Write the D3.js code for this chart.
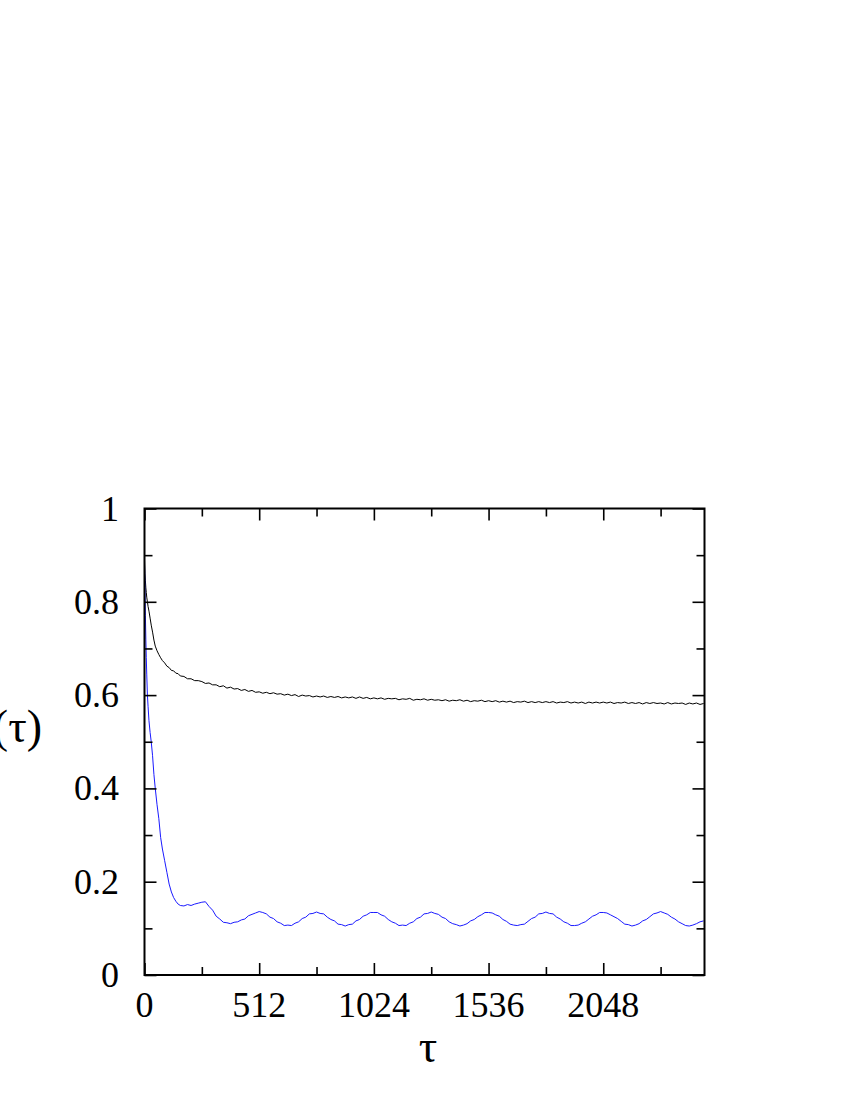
<!DOCTYPE html>
<html>
<head>
<meta charset="utf-8">
<script src="https://cdn.jsdelivr.net/npm/d3@7"></script>
<style>
  body { margin: 0; background: #fff; }
  svg text { font-family: "Liberation Serif", "DejaVu Serif", serif; fill: #000; }
</style>
</head>
<body>
<svg id="chart" width="850" height="1100"></svg>
<script>
// tau values (x), shared by both curves
var tau = [
  0,2,4,6,8,10,13,16,20,25,30,36,42,48,56,64,72,80,90,100,110,120,130,140,150,160,176,192,208,224,240,
  256,272,288,304,320,336,352,368,384,400,416,432,448,464,480,496,
  512,528,544,560,576,592,608,624,640,656,672,688,704,720,736,752,
  768,784,800,816,832,848,864,880,896,912,928,944,960,976,992,1008,
  1024,1040,1056,1072,1088,1104,1120,1136,1152,1168,1184,1200,1216,1232,1248,1264,
  1280,1296,1312,1328,1344,1360,1376,1392,1408,1424,1440,1456,1472,1488,1504,1520,
  1536,1552,1568,1584,1600,1616,1632,1648,1664,1680,1696,1712,1728,1744,1760,1776,
  1792,1808,1824,1840,1856,1872,1888,1904,1920,1936,1952,1968,1984,2000,2016,2032,
  2048,2064,2080,2096,2112,2128,2144,2160,2176,2192,2208,2224,2240,2256,2272,2288,
  2304,2320,2336,2352,2368,2384,2400,2416,2432,2448,2464,2480,2496
];

// black curve
var c_black = [
  0.890,0.860,0.845,0.830,0.820,0.810,0.800,0.790,0.780,0.765,0.750,0.735,0.718,0.705,0.695,0.687,0.680,0.674,0.669,0.662,0.659,0.653,0.652,0.647,0.646,0.641,0.640,0.635,0.635,0.631,0.631,
  0.629,0.625,0.626,0.622,0.622,0.618,0.620,0.615,0.617,0.613,0.614,0.610,0.612,0.608,0.610,0.606,
  0.607,0.604,0.606,0.603,0.605,0.602,0.603,0.600,0.602,0.599,0.601,0.597,0.600,0.598,0.599,0.596,
  0.598,0.596,0.598,0.595,0.597,0.595,0.597,0.594,0.596,0.594,0.596,0.593,0.596,0.593,0.595,0.592,
  0.594,0.592,0.594,0.591,0.593,0.592,0.593,0.590,0.592,0.591,0.593,0.589,0.591,0.590,0.592,0.589,
  0.591,0.589,0.590,0.588,0.590,0.587,0.589,0.588,0.590,0.587,0.589,0.586,0.588,0.587,0.589,0.586,
  0.588,0.586,0.588,0.585,0.587,0.585,0.587,0.584,0.586,0.585,0.587,0.584,0.586,0.584,0.586,0.584,
  0.586,0.584,0.586,0.583,0.585,0.584,0.586,0.583,0.585,0.583,0.585,0.582,0.585,0.583,0.585,0.583,
  0.585,0.583,0.585,0.582,0.584,0.583,0.585,0.582,0.584,0.582,0.584,0.581,0.584,0.582,0.584,0.582,
  0.583,0.581,0.584,0.581,0.583,0.582,0.583,0.580,0.583,0.581,0.583,0.580,0.582
];

// blue curve
var c_blue = [
  0.880,0.830,0.770,0.720,0.680,0.645,0.600,0.575,0.545,0.520,0.500,0.470,0.430,0.400,0.365,0.335,0.295,0.270,0.245,0.220,0.195,0.178,0.166,0.158,0.152,0.149,0.148,0.151,0.149,0.152,0.154,
  0.156,0.157,0.147,0.139,0.126,0.120,0.113,0.112,0.110,0.113,0.114,0.118,0.120,0.127,0.130,0.133,
  0.136,0.134,0.131,0.124,0.121,0.114,0.111,0.106,0.107,0.106,0.111,0.114,0.121,0.124,0.131,0.132,
  0.135,0.132,0.131,0.124,0.119,0.116,0.109,0.108,0.105,0.108,0.109,0.116,0.119,0.126,0.129,0.134,
  0.134,0.134,0.129,0.126,0.119,0.114,0.111,0.106,0.107,0.106,0.111,0.114,0.121,0.124,0.131,0.132,
  0.135,0.132,0.130,0.124,0.121,0.114,0.110,0.108,0.105,0.107,0.110,0.116,0.119,0.125,0.129,0.134,
  0.134,0.133,0.129,0.126,0.119,0.115,0.109,0.107,0.106,0.108,0.109,0.115,0.121,0.124,0.131,0.132,
  0.135,0.132,0.131,0.124,0.120,0.114,0.111,0.106,0.106,0.107,0.111,0.114,0.120,0.126,0.129,0.134,
  0.134,0.133,0.129,0.125,0.121,0.115,0.109,0.108,0.105,0.107,0.110,0.116,0.119,0.125,0.131,0.133,
  0.136,0.133,0.130,0.124,0.120,0.114,0.110,0.106,0.105,0.107,0.110,0.114,0.116
];

var x_major = [0, 512, 1024, 1536, 2048];
var x_minor = [256, 768, 1280, 1792, 2304];
var y_major = [0, 0.2, 0.4, 0.6, 0.8, 1];
var y_minor = [0.1, 0.3, 0.5, 0.7, 0.9];
var y_labels = ["0", "0.2", "0.4", "0.6", "0.8", "1"];

var svg = d3.select("#chart");
var plot_left = 144.5, plot_right = 704.5, plot_top = 508.5, plot_bottom = 975;

var xscale = d3.scaleLinear().domain([0, 2500]).range([plot_left, plot_right]);
var yscale = d3.scaleLinear().domain([0, 1]).range([plot_bottom, plot_top]);

// curves
var line = function (vals) {
  return d3.line()
    .x(function (d, i) { return xscale(tau[i]); })
    .y(function (d) { return yscale(d); })(vals);
};
svg.append("path").attr("d", line(c_black))
  .attr("fill", "none").attr("stroke", "#000").attr("stroke-width", 1);
svg.append("path").attr("d", line(c_blue))
  .attr("fill", "none").attr("stroke", "#1a1aff").attr("stroke-width", 1);

// ticks on all four sides (inward), drawn with d3 axes
function ticks(axisFn, scale, vals, len, transform) {
  svg.append("g")
    .attr("transform", transform)
    .call(axisFn(scale).tickValues(vals).tickSize(len).tickFormat(""))
    .call(function (g) { g.select(".domain").remove(); })
    .selectAll("line").attr("stroke", "#000").attr("stroke-width", 1.6);
}
ticks(d3.axisTop, xscale, x_major, 12, "translate(0," + plot_bottom + ")");
ticks(d3.axisTop, xscale, x_minor, 8, "translate(0," + plot_bottom + ")");
ticks(d3.axisBottom, xscale, x_major, 12, "translate(0," + plot_top + ")");
ticks(d3.axisBottom, xscale, x_minor, 8, "translate(0," + plot_top + ")");
ticks(d3.axisRight, yscale, y_major, 12, "translate(" + plot_left + ",0)");
ticks(d3.axisRight, yscale, y_minor, 8, "translate(" + plot_left + ",0)");
ticks(d3.axisLeft, yscale, y_major, 12, "translate(" + plot_right + ",0)");
ticks(d3.axisLeft, yscale, y_minor, 8, "translate(" + plot_right + ",0)");

// frame
svg.append("rect")
  .attr("x", plot_left).attr("y", plot_top)
  .attr("width", plot_right - plot_left).attr("height", plot_bottom - plot_top)
  .attr("fill", "none").attr("stroke", "#000").attr("stroke-width", 2);

// tick labels
svg.append("g").selectAll("text").data(x_major).enter().append("text")
  .attr("x", function (d) { return xscale(d); })
  .attr("y", 1017)
  .attr("text-anchor", "middle")
  .style("font-size", "36px")
  .text(function (d) { return d; });

svg.append("g").selectAll("text").data(y_major).enter().append("text")
  .attr("x", 119)
  .attr("y", function (d) { return yscale(d) + 12; })
  .attr("text-anchor", "end")
  .style("font-size", "36px")
  .text(function (d, i) { return y_labels[i]; });

// axis titles
svg.append("text")
  .attr("x", 428).attr("y", 1062)
  .attr("text-anchor", "middle")
  .style("font-size", "46px")
  .text("τ");

svg.append("text")
  .attr("x", 42).attr("y", 742)
  .attr("text-anchor", "end")
  .style("font-size", "46px")
  .text("C(τ)");
</script>
</body>
</html>
